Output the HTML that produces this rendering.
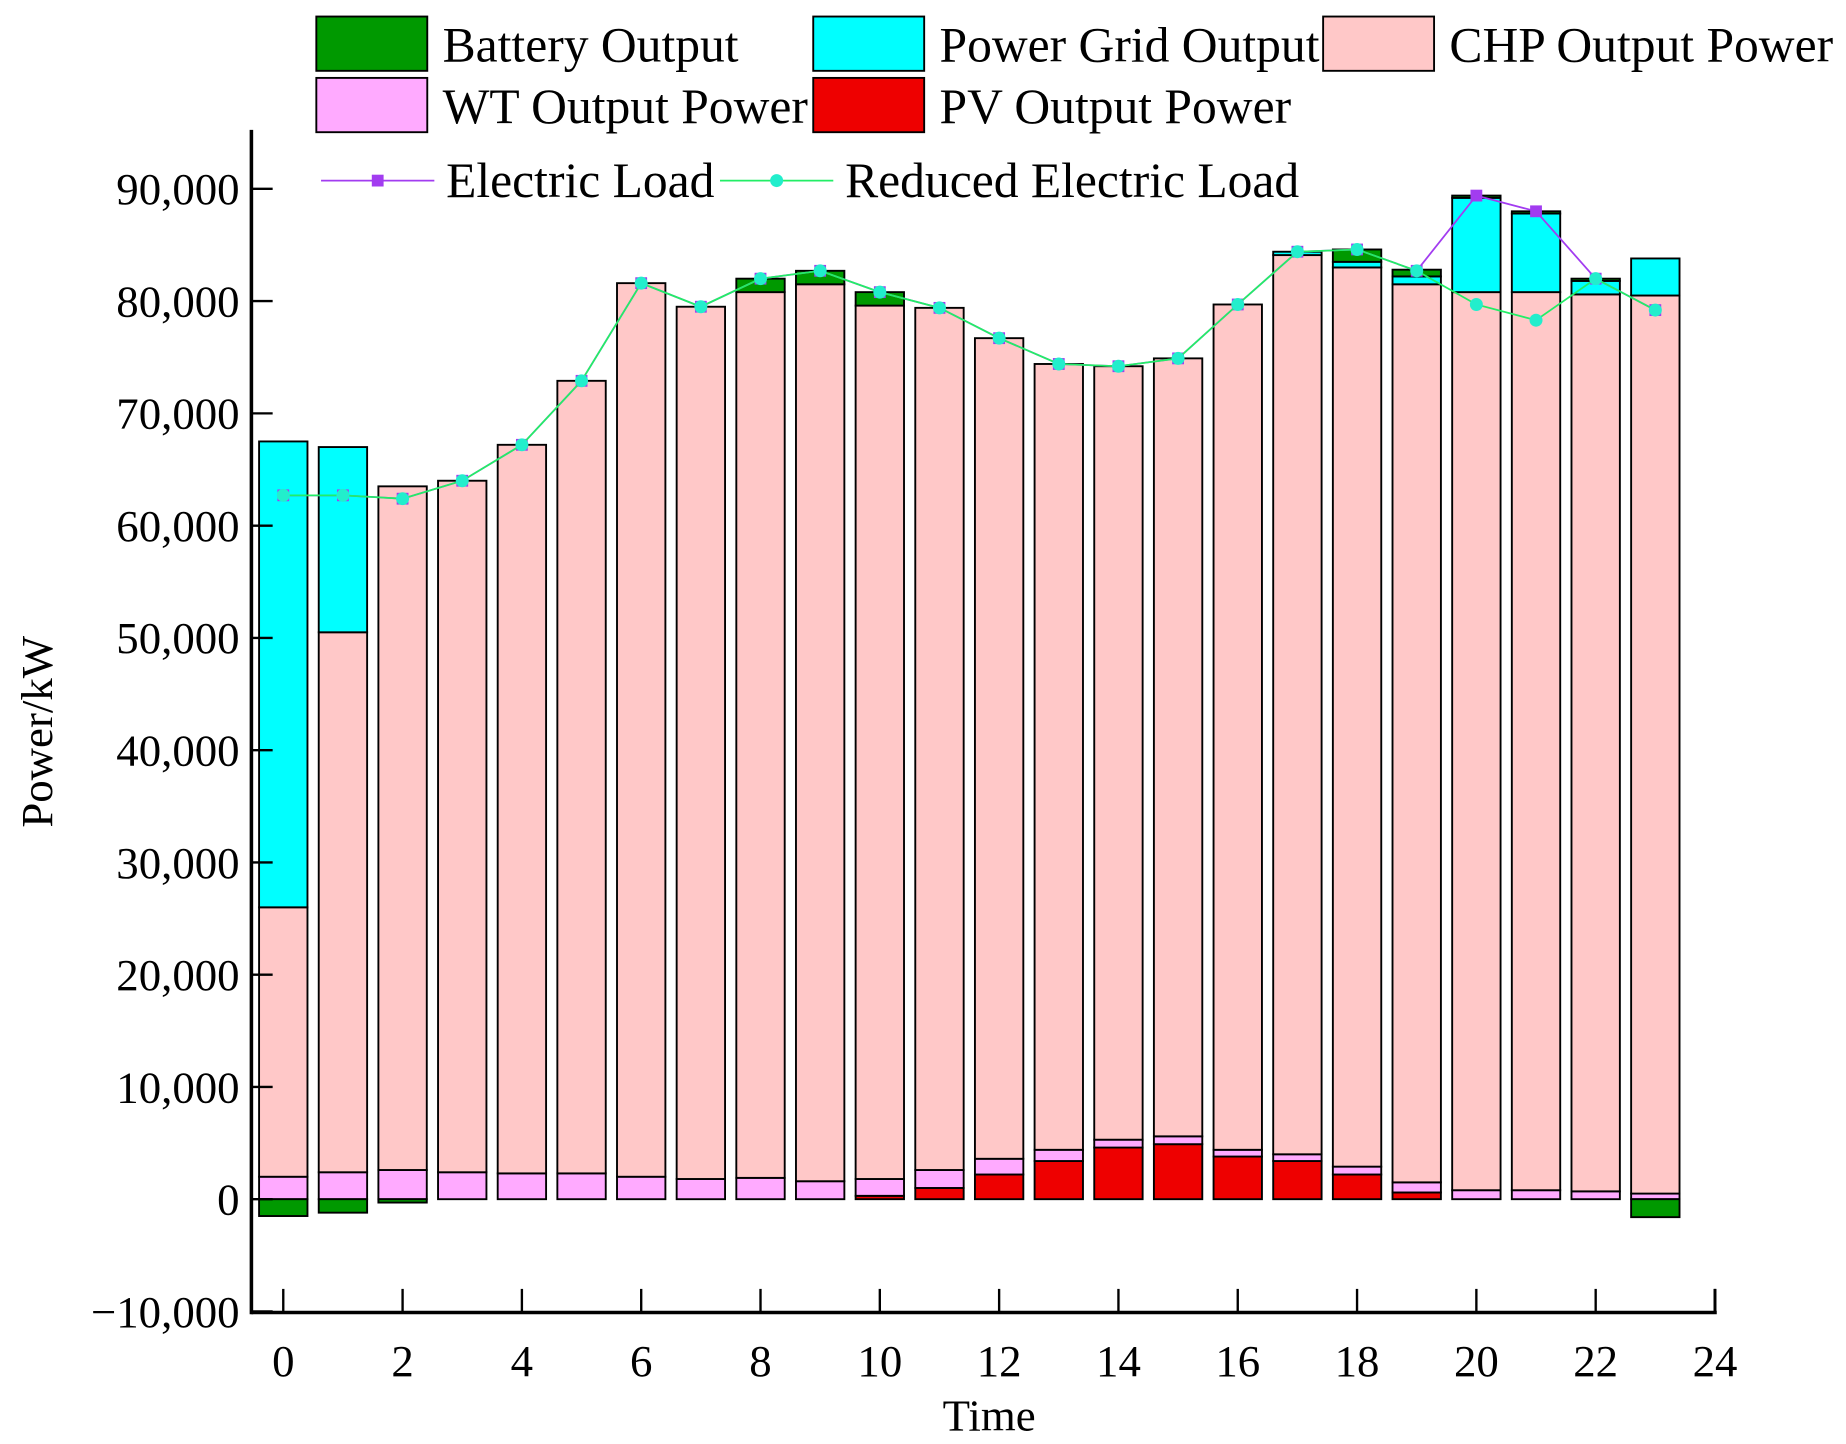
<!DOCTYPE html>
<html><head><meta charset="utf-8"><style>html,body{margin:0;padding:0;background:#fff}svg{display:block}text{font-family:"Liberation Serif",serif}</style></head>
<body>
<svg id="chart" width="1846" height="1444" viewBox="0 0 1564 1223.4" xmlns="http://www.w3.org/2000/svg">
<g id="bars"></g>
<g id="lines"></g>
<g id="axes"></g>
<g id="legend"></g>
</svg>
<script>
const hours=[0,1,2,3,4,5,6,7,8,9,10,11,12,13,14,15,16,17,18,19,20,21,22,23];
const pv=[0,0,0,0,0,0,0,0,0,0,300,1000,2200,3400,4600,4900,3800,3400,2200,600,0,0,0,0];
const wt=[2000,2400,2600,2400,2300,2300,2000,1800,1900,1600,1500,1600,1400,1000,700,700,600,600,700,900,800,800,700,500];
const chp=[24000,48100,60900,61600,64900,70600,79600,77700,78900,79900,77800,76800,73100,70000,68900,69300,75300,80100,80100,80000,80000,80000,79900,80000];
const grid=[41500,16500,0,0,0,0,0,0,0,0,0,0,0,0,0,0,0,300,500,700,8400,7000,1200,3300];
const battery=[-1500,-1200,-300,0,0,0,0,0,1200,1200,1200,0,0,0,0,0,0,0,1100,600,200,200,200,-1600];
const load=[62700,62700,62400,64000,67200,72900,81600,79500,82000,82700,80800,79400,76700,74400,74200,74900,79700,84400,84600,82700,89400,88000,82000,79200];
const reduced=[62700,62700,62400,64000,67200,72900,81600,79500,82000,82700,80800,79400,76700,74400,74200,74900,79700,84400,84600,82700,79700,78300,82000,79200];
const yTicks=[-10000,0,10000,20000,30000,40000,50000,60000,70000,80000,90000];
const xTicks=[0,2,4,6,8,10,12,14,16,18,20,22,24];
const NS="http://www.w3.org/2000/svg";
const X0=213,X1=1453,Y0=1112,YT=110;
const xs=h=>240+h*(1453-240)/24;
const ys=v=>1016-v*(1016-160)/90000;
function mk(p,t,a){const e=document.createElementNS(NS,t);for(const k in a)e.setAttribute(k,a[k]);p.appendChild(e);return e;}
const gb=document.getElementById('bars');
const bw=41;
function seg(h,a,b,fill,name){
  if(Math.abs(b-a)<1)return;
  const y1=ys(Math.max(a,b)),y2=ys(Math.min(a,b));
  const r=mk(gb,'rect',{x:xs(h)-bw/2,y:y1,width:bw,height:y2-y1,fill:fill,stroke:'#000','stroke-width':1.6});
  
  
}
hours.forEach((h,i)=>{
  let b=0;
  seg(h,b,b+pv[i],'#ee0000','pv-bar-'+h);b+=pv[i];
  seg(h,b,b+wt[i],'#ffaaff','wt-bar-'+h);b+=wt[i];
  seg(h,b,b+chp[i],'#ffc8c8','chp-bar-'+h);b+=chp[i];
  seg(h,b,b+grid[i],'#00ffff','grid-bar-'+h);b+=grid[i];
  if(battery[i]>0){seg(h,b,b+battery[i],'#009900','battery-bar-'+h);}
  else if(battery[i]<0){seg(h,0,battery[i],'#009900','battery-bar-'+h);}
});
const gl=document.getElementById('lines');
function line(data,color,name,marker){
  const pts=hours.map((h,i)=>xs(h)+','+ys(data[i])).join(' ');
  const pl=mk(gl,'polyline',{points:pts,fill:'none',stroke:color,'stroke-width':1.5});
  
  
  hours.forEach((h,i)=>{
    let m;
    if(marker==='sq')m=mk(gl,'rect',{x:xs(h)-5,y:ys(data[i])-5,width:10,height:10,fill:color});
    else m=mk(gl,'circle',{cx:xs(h),cy:ys(data[i]),r:5.5,fill:'#22eecc'});
    
    
  });
}
line(load,'#a23cf0','electric-load','sq');
line(reduced,'#22ee66','reduced-electric-load','circ');
const ga=document.getElementById('axes');
mk(ga,'line',{x1:X0,y1:YT,x2:X0,y2:Y0+1.5,stroke:'#000','stroke-width':3});
mk(ga,'line',{x1:X0,y1:Y0,x2:X1+1.5,y2:Y0,stroke:'#000','stroke-width':3});
mk(ga,'line',{x1:X1,y1:Y0,x2:X1,y2:Y0-20,stroke:'#000','stroke-width':2.5});
yTicks.forEach(v=>{
  mk(ga,'line',{x1:X0,y1:ys(v),x2:X0+18,y2:ys(v),stroke:'#000','stroke-width':2});
  const t=mk(ga,'text',{x:203,y:ys(v)+13,'font-size':38,'text-anchor':'end'});
  t.textContent=v.toLocaleString('en-US').replace('-','\u2212');
  
  
});
xTicks.forEach(v=>{
  mk(ga,'line',{x1:xs(v),y1:Y0,x2:xs(v),y2:Y0-20,stroke:'#000','stroke-width':2});
  const t=mk(ga,'text',{x:xs(v),y:1166,'font-size':38,'text-anchor':'middle'});
  t.textContent=v;
  
  
});
let t=mk(ga,'text',{x:838,y:1212,'font-size':38,'text-anchor':'middle'});t.textContent='Time';


t=mk(ga,'text',{x:0,y:0,'font-size':38,'text-anchor':'middle',transform:'translate(44,620) rotate(-90)'});t.textContent='Power/kW';


const lg=document.getElementById('legend');
const boxes=[['Battery Output','#009900',268,14],['Power Grid Output','#00ffff',689,14],['CHP Output Power','#ffc8c8',1121,14],['WT Output Power','#ffaaff',268,66],['PV Output Power','#ee0000',689,66]];
boxes.forEach(b=>{
  const r=mk(lg,'rect',{x:b[2],y:b[3],width:94,height:46,fill:b[1],stroke:'#000','stroke-width':1.6});
  
  
  const tx=mk(lg,'text',{x:b[2]+107,y:b[3]+38,'font-size':42});tx.textContent=b[0];
  
  
});
mk(lg,'line',{x1:272,y1:153,x2:368,y2:153,stroke:'#a23cf0','stroke-width':1.5});
mk(lg,'rect',{x:315,y:148,width:10,height:10,fill:'#a23cf0'});
t=mk(lg,'text',{x:378,y:167,'font-size':42});t.textContent='Electric Load';


mk(lg,'line',{x1:610,y1:153,x2:706,y2:153,stroke:'#22ee66','stroke-width':1.5});
mk(lg,'circle',{cx:658,cy:153,r:5.5,fill:'#22eecc'});
t=mk(lg,'text',{x:716,y:167,'font-size':42});t.textContent='Reduced Electric Load';


</script>
</body></html>
